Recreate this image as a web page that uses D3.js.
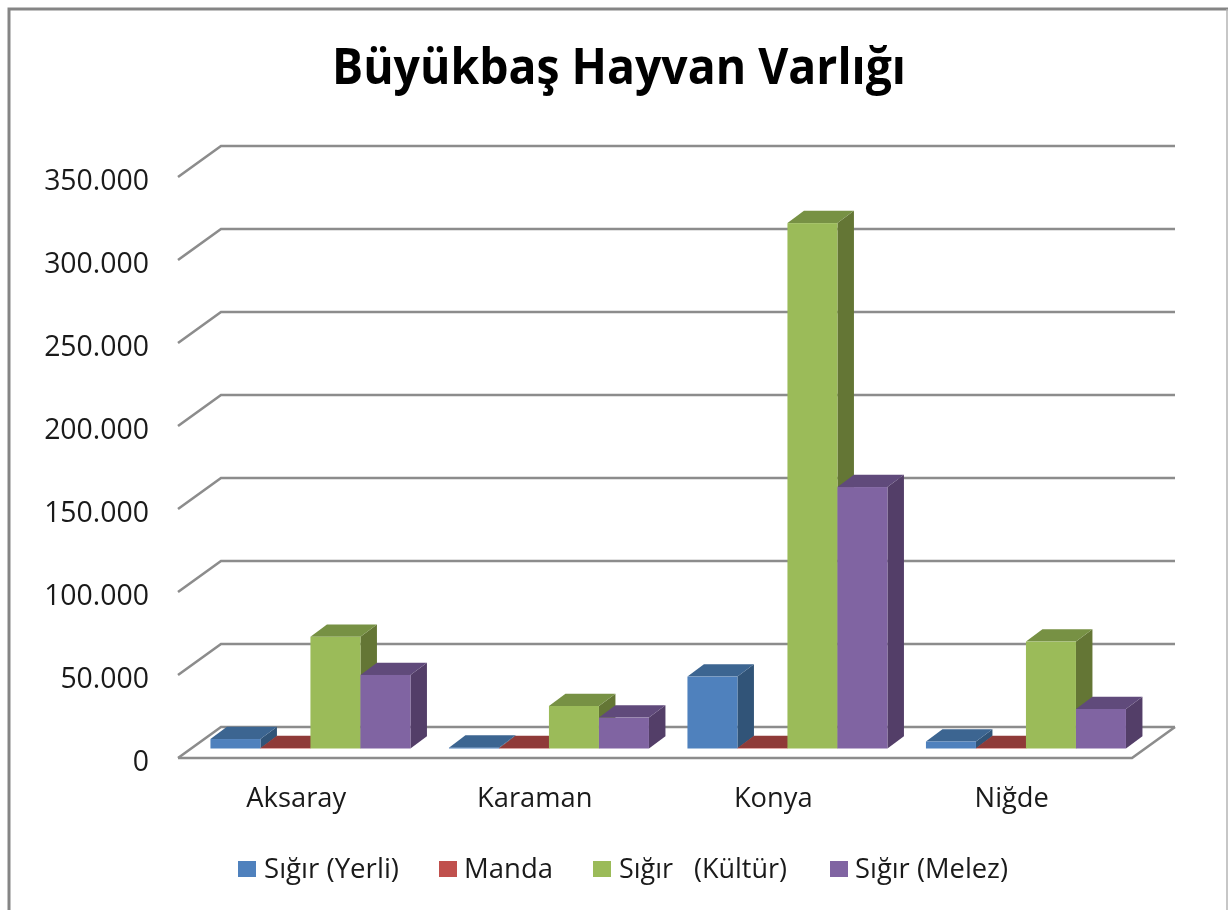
<!DOCTYPE html>
<html><head><meta charset="utf-8">
<script src="https://cdn.jsdelivr.net/npm/d3@7"></script>
<style>
html,body{margin:0;padding:0;background:#fff;overflow:hidden}
svg{display:block;filter:blur(0.6px)}
text{font-family:"Open Sans",sans-serif;fill:#1a1a1a}
</style></head><body>
<svg id="c" width="1228" height="910"></svg>
<script>
const titleText = "Büyükbaş Hayvan Varlığı";
const categories = ["Aksaray","Karaman","Konya","Niğde"];
const seriesNames = ["Sığır (Yerli)","Manda","Sığır   (Kültür)","Sığır (Melez)"];
const yerli  = [5700, 500, 43300, 4200];
const manda  = [300, 200, 300, 300];
const kultur = [67300, 25600, 316500, 64400];
const melez  = [44300, 18600, 157500, 23800];
const yTicks = [0,50000,100000,150000,200000,250000,300000,350000];

const seriesValues = [yerli, manda, kultur, melez];
const fronts = ["#4F81BD","#C0504D","#9BBB59","#8064A2"];
const tops   = ["#3C6591","#8F3A38","#779144","#604A7B"];
const sides  = ["#315478","#7A2F2D","#647635","#533E68"];

const svg = d3.select("#c");

// frame
svg.append("path").attr("d","M9,910V9H1228").attr("fill","none").attr("stroke","#858585").attr("stroke-width",3);
svg.append("line").attr("x1",1227).attr("x2",1227).attr("y1",9).attr("y2",910).attr("stroke","#b5b5b5").attr("stroke-width",1.5);

// title
svg.append("text").text(titleText).attr("x",619).attr("y",84)
  .attr("text-anchor","middle").attr("font-size",50).attr("font-weight",700)
  .attr("textLength",574).attr("lengthAdjust","spacingAndGlyphs").style("fill","#000");

// projection geometry
const frontLeft=178, frontRight=1132, frontZero=758, frontTop=177;
const depthX=43, depthY=-31;
const barPlaneX=13.2, barPlaneY=-9.5, barDX=16.5, barDY=-12.3;

const y = d3.scaleLinear().domain([0,350000]).range([frontZero,frontTop]);
const x0 = d3.scaleBand().domain(categories).range([frontLeft,frontRight]).paddingInner(0);
const x1 = d3.scaleBand().domain(d3.range(seriesNames.length)).range([0,200]);
const groupInset = (x0.bandwidth()-200)/2;

// walls & grid
const grid = svg.append("g").attr("fill","none").attr("stroke","#8c8c8c").attr("stroke-width",2.6);
yTicks.forEach(t=>{
  grid.append("path").attr("d",`M${frontLeft},${y(t)}L${frontLeft+depthX},${y(t)+depthY}H${frontRight+depthX}`);
});
grid.append("path").attr("d",`M${frontLeft},${y(0)}H${frontRight}L${frontRight+depthX},${y(0)+depthY}`);

// bars
const poly = pts => "M"+pts.map(p=>p.join(",")).join("L")+"Z";
categories.forEach((cat,ci)=>{
  seriesValues.forEach((vals,si)=>{
    const xl = x0(cat)+groupInset+x1(si)+barPlaneX, xr = xl+x1.bandwidth();
    const yb = y(0)+barPlaneY, yt = y(vals[ci])+barPlaneY;
    const g = svg.append("g").attr("class","bar");
    g.append("path").attr("d",poly([[xr,yt],[xr+barDX,yt+barDY],[xr+barDX,yb+barDY],[xr,yb]])).attr("fill",sides[si]);
    g.append("path").attr("d",poly([[xl,yt],[xl+barDX,yt+barDY],[xr+barDX,yt+barDY],[xr,yt]])).attr("fill",tops[si]);
    g.append("rect").attr("x",xl).attr("y",yt).attr("width",xr-xl).attr("height",yb-yt).attr("fill",fronts[si]);
  });
});

// axes
const fmt = d3.formatLocale({decimal:",",thousands:".",grouping:[3],currency:["",""]}).format(",d");
const ya = d3.axisLeft(y).tickValues(yTicks).tickFormat(fmt).tickSize(0).tickPadding(0);
const yg = svg.append("g").attr("transform","translate(149,3)").call(ya);
yg.select(".domain").remove();
yg.selectAll("text").attr("font-size",28.4).style("font-family",'"Open Sans",sans-serif').style("fill","#1a1a1a");

const xa = d3.axisBottom(x0).tickSize(0).tickPadding(0);
const xg = svg.append("g").attr("transform","translate(-1,788)").call(xa);
xg.select(".domain").remove();
xg.selectAll("text").attr("font-size",27.3).style("font-family",'"Open Sans",sans-serif').style("fill","#1a1a1a");

// legend
const swatchX=[238,439,593,830], textX=[264,464,619,855], textW=[135,89,168,153];
seriesNames.forEach((n,i)=>{
  svg.append("rect").attr("x",swatchX[i]).attr("y",861).attr("width",18).attr("height",16).attr("fill",fronts[i]);
  svg.append("text").text(n).attr("x",textX[i]).attr("y",878).attr("font-size",27).attr("xml:space","preserve")
    .style("white-space","pre").attr("textLength",textW[i]).attr("lengthAdjust","spacingAndGlyphs");
});
</script>
</body></html>
